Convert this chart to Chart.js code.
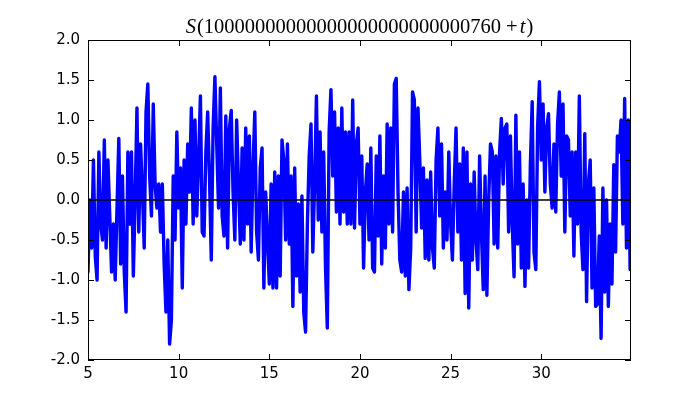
<!DOCTYPE html>
<html>
<head>
<meta charset="utf-8">
<script src="https://cdn.jsdelivr.net/npm/chart.js@4.4.0/dist/chart.umd.min.js"></script>
<style>
  body { margin: 0; background: #fff; }
  #wrap { width: 700px; height: 400px; }
</style>
</head>
<body>
<div id="wrap"><canvas id="sChart" width="700" height="400"></canvas></div>
<script>
"use strict";

// axis setup
var xMin = 5;
var xMax = 34.95;
var yMin = -2;
var yMax = 2;
var xTicks = [5, 10, 15, 20, 25, 30];
var yTicks = [-2, -1.5, -1, -0.5, 0, 0.5, 1, 1.5, 2];

// S(t), one value every 0.1 starting at t = 5.0
var sampleStart = 5.0;
var sampleStep = 0.1;

var seg05 = [-0.9, 0.0, -0.6, 0.5, -0.7, -1.0, 0.6, -0.3, -0.5, 0.75,
  -0.6, 0.5, -0.2, -0.9, -0.3, -1.0, -0.1, 0.77, -0.8, 0.3,
  -0.9, -1.4, 0.6, -0.3, 0.6, -0.95, 0.0, 1.15, -0.4, 0.7];
var seg08 = [0.1, -0.6, 1.1, 1.45, 0.3, -0.2, 1.2, 0.2, -0.1, 0.2,
  -0.4, 0.2, -0.8, -1.4, -0.5, -1.8, -1.5, 0.3, -0.5, 0.85,
  -0.1, 0.4, -1.1, 0.5, -0.3, 0.7, 0.1, 1.15, -0.3, 1.0];
var seg11 = [-0.2, 0.5, 1.3, -0.4, -0.45, 0.6, 1.1, 0.3, -0.75, 0.9,
  1.54, 0.7, -0.1, 1.4, -0.2, -0.45, 1.05, -0.6, 0.9, 1.12,
  0.1, -0.5, 1.0, 0.2, -0.55, 0.65, -0.5, 0.9, -0.3, 0.8];
var seg14 = [-0.65, 0.4, 1.1, -0.4, -0.75, 0.4, 0.65, -1.1, 0.1, -0.5,
  -1.05, 0.2, -1.1, 0.35, -1.1, 0.3, -0.95, 0.75, 0.5, -0.5,
  0.7, -0.55, 0.3, -1.33, 0.4, -0.95, -0.05, -1.15, 0.05, -1.4];
var seg17 = [-1.65, -0.3, 0.55, 0.95, -0.65, 0.2, 1.3, -0.25, 0.85, -0.4,
  0.6, -0.85, -1.6, 0.85, 1.38, 0.3, 1.1, -0.15, 0.9, -0.3,
  1.15, -0.15, 0.85, -0.3, 0.85, -0.3, 1.25, -0.35, 0.7, 0.9];
var seg20 = [-0.3, 0.55, -0.85, 0.1, 0.45, -0.5, 0.65, -0.85, -0.9, 0.55,
  -0.45, 0.8, -0.8, 0.3, -0.6, 0.95, -0.3, 0.9, -0.4, 1.45,
  1.52, 0.1, -0.75, -0.9, 0.1, -0.95, 0.15, -1.12, -0.6, 1.35];
var seg23 = [1.25, -0.4, 1.15, 0.5, -0.35, 0.4, -0.73, 0.25, -0.75, 0.35,
  -0.6, -0.85, 0.5, 0.9, -0.2, 0.7, -0.6, 0.1, -0.5, 0.6,
  -0.3, -0.75, 0.2, 0.9, -0.4, 0.45, -0.75, 0.65, -1.17, 0.6];
var seg26 = [-1.35, 0.2, -0.75, 0.35, -0.5, -0.87, 0.55, -0.4, -1.12, 0.3,
  -1.19, 0.0, 0.7, 0.6, -0.55, 0.55, -0.6, 0.6, 1.02, 0.2,
  0.9, 0.95, -0.4, 0.8, -0.3, -0.96, 1.06, -0.55, 0.6, -0.85];
var seg29 = [0.2, -1.08, 0.0, -0.85, 0.45, 1.23, -0.65, -0.87, 0.92, 1.48,
  0.5, 1.2, 0.1, 0.9, 1.08, 0.2, -0.1, 0.7, -0.15, 0.95,
  1.35, 0.3, 1.2, -0.4, 0.8, 0.75, -0.2, 0.6, -0.7, 0.6];
var seg32 = [-0.3, 1.3, -0.4, -0.87, 0.83, -1.27, 0.2, 0.5, -1.1, 0.15,
  -1.33, -1.3, -0.45, -1.73, 0.15, -1.15, 0.0, -1.33, -0.3, -1.05,
  0.44, -0.65, 0.8, 0.6, 1.0, -0.3, 1.27, -0.6, 1.0, -0.87];

var zeroLine = [0, 0];

function buildPoints() {
  let values = [].concat(seg05, seg08, seg11, seg14, seg17, seg20, seg23, seg26, seg29, seg32);
  let pts = [];
  values.forEach((v, idx) => {
    pts.push({ x: Math.round((sampleStart + idx * sampleStep) * 100) / 100, y: v });
  });
  return pts;
}

// matplotlib classic look: inward ticks on all four sides, a frame and a math title
var classicAxes = {
  id: "classicAxes",
  afterDraw: function (chart) {
    let ctx = chart.ctx;
    let a = chart.chartArea;
    let xs = chart.scales.x;
    let ys = chart.scales.y;
    let tl = 6;

    ctx.save();
    ctx.strokeStyle = "#000";
    ctx.lineWidth = 1;
    ctx.beginPath();
    xTicks.forEach((v) => {
      let px = Math.round(xs.getPixelForValue(v)) + 0.5;
      ctx.moveTo(px, a.bottom);
      ctx.lineTo(px, a.bottom - tl);
      ctx.moveTo(px, a.top);
      ctx.lineTo(px, a.top + tl);
    });
    yTicks.forEach((v) => {
      let py = Math.round(ys.getPixelForValue(v)) + 0.5;
      ctx.moveTo(a.left, py);
      ctx.lineTo(a.left + tl, py);
      ctx.moveTo(a.right, py);
      ctx.lineTo(a.right - tl, py);
    });
    ctx.stroke();
    ctx.strokeRect(a.left + 0.5, a.top + 0.5, a.right - a.left - 1, a.bottom - a.top - 1);

    // title: S(10000000000000000000000000760 + t)
    let size = 20.5;
    let parts = [
      { t: "S", f: "italic " + size + "px 'Liberation Serif'", gap: 0 },
      { t: "(10000000000000000000000000760", f: size + "px 'Liberation Serif'", gap: 1 },
      { t: "+", f: size + "px 'Liberation Serif'", gap: 5 },
      { t: "t", f: "italic " + size + "px 'Liberation Serif'", gap: 2 },
      { t: ")", f: size + "px 'Liberation Serif'", gap: 1 },
    ];
    let total = 0;
    parts.forEach((p) => {
      ctx.font = p.f;
      p.w = ctx.measureText(p.t).width;
      total += p.w + p.gap;
    });
    let cx = (a.left + a.right) / 2;
    let x = cx - total / 2;
    ctx.fillStyle = "#000";
    ctx.textBaseline = "alphabetic";
    ctx.textAlign = "left";
    parts.forEach((p) => {
      x += p.gap;
      ctx.font = p.f;
      ctx.fillText(p.t, x, 33);
      x += p.w;
    });
    ctx.restore();
  },
};

var tickFont = { family: "'DejaVu Sans'", size: 15 };

new Chart(document.getElementById("sChart"), {
  type: "line",
  data: {
    datasets: [
      {
        data: [
          { x: xMin, y: zeroLine[0] },
          { x: xMax, y: zeroLine[1] },
        ],
        borderColor: "#000000",
        borderWidth: 1.5,
        pointRadius: 0,
        order: 0,
      },
      {
        data: buildPoints(),
        borderColor: "#0000ff",
        borderWidth: 3.4,
        pointRadius: 0,
        tension: 0,
        borderJoinStyle: "round",
        borderCapStyle: "round",
        order: 1,
      },
    ],
  },
  options: {
    responsive: false,
    animation: false,
    devicePixelRatio: 1,
    layout: { padding: { left: 0, top: 40, right: 69, bottom: 0 } },
    plugins: {
      legend: { display: false },
      tooltip: { enabled: false },
      title: { display: false },
    },
    scales: {
      x: {
        type: "linear",
        min: xMin,
        max: xMax,
        grid: { display: false, drawTicks: false },
        border: { display: false },
        afterBuildTicks: function (scale) {
          scale.ticks = xTicks.map((v) => ({ value: v }));
        },
        afterFit: function (scale) {
          scale.height = 40;
        },
        ticks: {
          padding: 5,
          color: "#000",
          font: tickFont,
          maxRotation: 0,
          callback: function (v) {
            return String(v);
          },
        },
      },
      y: {
        type: "linear",
        min: yMin,
        max: yMax,
        grid: { display: false, drawTicks: false },
        border: { display: false },
        afterBuildTicks: function (scale) {
          scale.ticks = yTicks.map((v) => ({ value: v }));
        },
        afterFit: function (scale) {
          scale.width = 88;
        },
        ticks: {
          padding: 8,
          color: "#000",
          font: tickFont,
          callback: function (v) {
            return Number(v).toFixed(1);
          },
        },
      },
    },
  },
  plugins: [classicAxes],
});
</script>
</body>
</html>
